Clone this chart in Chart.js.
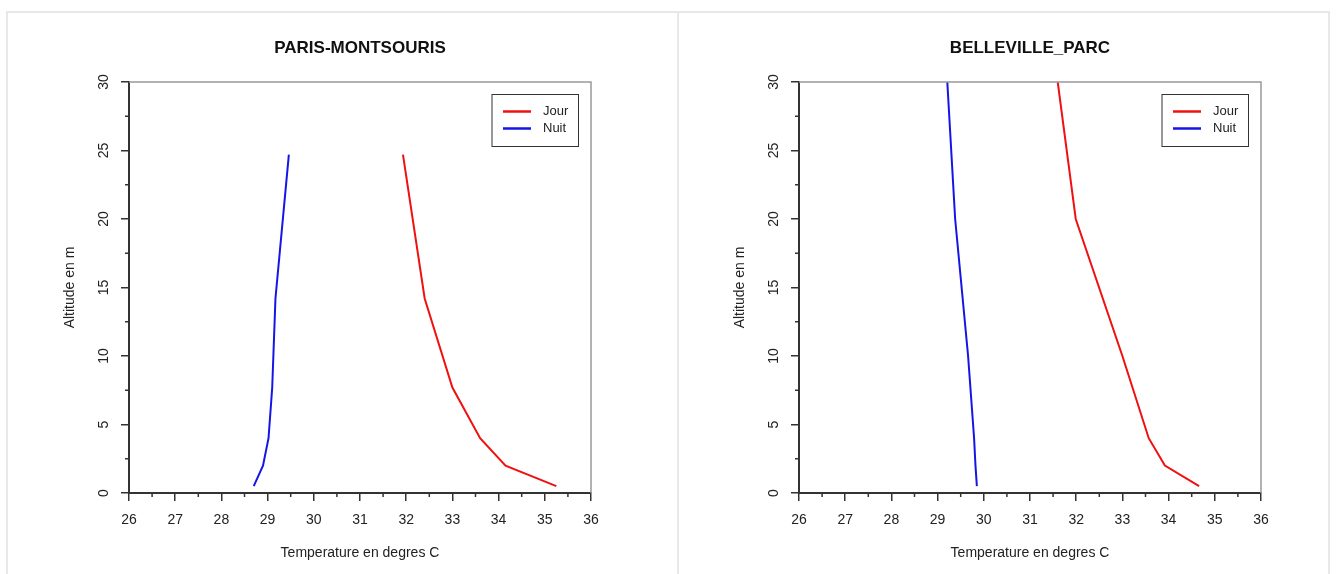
<!DOCTYPE html>
<html lang="fr">
<head>
  <meta charset="UTF-8" />
  <title>Profils de temperature</title>
  <script src="https://cdn.jsdelivr.net/npm/chart.js"></script>
  <style>
    body {
      margin: 0;
      background: white;
      font-family: 'Liberation Sans', Arial, sans-serif;
    }
    #page {
      position: relative;
      width: 1337px;
      height: 574px;
      overflow: hidden;
    }
    #frame {
      position: absolute;
      left: 6px;
      top: 11px;
      width: 1320px;
      height: 600px;
      border: 2px solid #e8e8e8;
    }
    #divider {
      position: absolute;
      left: 677px;
      top: 12px;
      width: 2px;
      height: 600px;
      background: #e8e8e8;
    }
    canvas { position: absolute; top: 0; }
  </style>
</head>
<body>
  <div id="page">
    <div id="frame"></div>
    <div id="divider"></div>
    <canvas id="paris" width="670" height="574" style="left:8px"></canvas>
    <canvas id="belleville" width="650" height="574" style="left:678px"></canvas>
  </div>

  <script>
    // altitudes (m) and temperatures (degres C)
    const parisAlt  = [0.5, 2, 4, 7.7, 14.2, 24.7];
    const parisJour = [35.25, 34.15, 33.6, 33.0, 32.4, 31.93];
    const parisNuit = [28.7, 28.9, 29.02, 29.1, 29.17, 29.46];

    const bellevilleAlt  = [0.5, 2, 4, 10, 20, 30];
    const bellevilleJour = [34.66, 33.92, 33.57, 33.0, 31.99, 31.6];
    const bellevilleNuit = [29.85, 29.82, 29.79, 29.66, 29.38, 29.21];

    const xTicks = [26, 27, 28, 29, 30, 31, 32, 33, 34, 35, 36];
    const yTicks = [0, 5, 10, 15, 20, 25, 30];

    const FONT = "'Liberation Sans', Arial, sans-serif";
    const INK = '#222';

    function points(temps, alts) {
      return temps.map((t, i) => ({ x: t, y: alts[i] }));
    }

    // R-style frame: grey top/right edges, minor ticks, boxed legend
    const rFrame = {
      id: 'rFrame',
      afterDraw(chart) {
        const { ctx, chartArea: a, scales } = chart;
        const xs = scales.x, ys = scales.y;
        ctx.save();
        ctx.strokeStyle = '#999';
        ctx.lineWidth = 1.5;
        ctx.beginPath();
        ctx.moveTo(a.left, a.top);
        ctx.lineTo(a.right, a.top);
        ctx.lineTo(a.right, a.bottom);
        ctx.stroke();

        ctx.strokeStyle = '#333';
        ctx.lineWidth = 1.5;
        ctx.beginPath();
        for (let v = xs.min + 0.5; v < xs.max; v += 1) {
          const px = xs.getPixelForValue(v);
          ctx.moveTo(px, a.bottom);
          ctx.lineTo(px, a.bottom + 4);
        }
        for (let v = ys.min + 2.5; v < ys.max; v += 5) {
          const py = ys.getPixelForValue(v);
          ctx.moveTo(a.left, py);
          ctx.lineTo(a.left - 4, py);
        }
        ctx.stroke();

        // legend
        const bx = a.right - 99, by = a.top + 12.5, bw = 86.5, bh = 52;
        ctx.strokeStyle = '#333';
        ctx.lineWidth = 1;
        ctx.strokeRect(bx, by, bw, bh);
        ctx.font = '13px ' + FONT;
        ctx.textBaseline = 'middle';
        ctx.fillStyle = INK;
        chart.data.datasets.forEach((ds, i) => {
          const ly = by + 17 + i * 17;
          ctx.strokeStyle = ds.borderColor;
          ctx.lineWidth = 2.5;
          ctx.beginPath();
          ctx.moveTo(bx + 11, ly);
          ctx.lineTo(bx + 39, ly);
          ctx.stroke();
          ctx.fillText(ds.label, bx + 51, ly);
        });
        ctx.restore();
      }
    };

    function makeChart(id, title, alts, jour, nuit, padRight) {
      return new Chart(document.getElementById(id), {
        type: 'scatter',
        data: {
          datasets: [
            { label: 'Jour', data: points(jour, alts), borderColor: '#f01010', showLine: true, borderWidth: 2, pointRadius: 0 },
            { label: 'Nuit', data: points(nuit, alts), borderColor: '#1515e8', showLine: true, borderWidth: 2, pointRadius: 0 }
          ]
        },
        options: {
          responsive: false,
          animation: false,
          layout: { padding: { left: 0, right: padRight, top: 0, bottom: 0 } },
          scales: {
            x: {
              type: 'linear', min: 26, max: 36,
              afterBuildTicks: s => { s.ticks = xTicks.map(v => ({ value: v })); },
              afterFit: s => { s.height = 81; },
              ticks: { font: { size: 14, family: FONT }, color: INK, padding: 11, maxRotation: 0 },
              grid: { drawOnChartArea: false, tickLength: 8, color: '#333', lineWidth: 1.5 },
              border: { display: true, color: '#333', width: 2 },
              title: { display: true, text: 'Temperature en degres C', font: { size: 14, family: FONT }, color: INK, padding: { top: 0, bottom: 12 } }
            },
            y: {
              type: 'linear', min: 0, max: 30,
              afterBuildTicks: s => { s.ticks = yTicks.map(v => ({ value: v })); },
              afterFit: s => { s.width = 121; },
              ticks: { font: { size: 14, family: FONT }, color: INK, padding: 9, minRotation: 90, maxRotation: 90, crossAlign: 'center' },
              grid: { drawOnChartArea: false, tickLength: 8, color: '#333', lineWidth: 1.5 },
              border: { display: true, color: '#333', width: 2 },
              title: { display: true, text: 'Altitude en m', font: { size: 14, family: FONT }, color: INK, padding: { top: 53.6, bottom: 0 } }
            }
          },
          plugins: {
            legend: { display: false },
            tooltip: { enabled: false },
            title: {
              display: true, text: title, fullSize: false, color: '#111',
              font: { size: 17, weight: 'bold', family: FONT },
              padding: { top: 38, bottom: 23.6 }
            }
          }
        },
        plugins: [rFrame]
      });
    }

    makeChart('paris', 'PARIS-MONTSOURIS', parisAlt, parisJour, parisNuit, 87);
    makeChart('belleville', 'BELLEVILLE_PARC', bellevilleAlt, bellevilleJour, bellevilleNuit, 67);
  </script>
</body>
</html>
